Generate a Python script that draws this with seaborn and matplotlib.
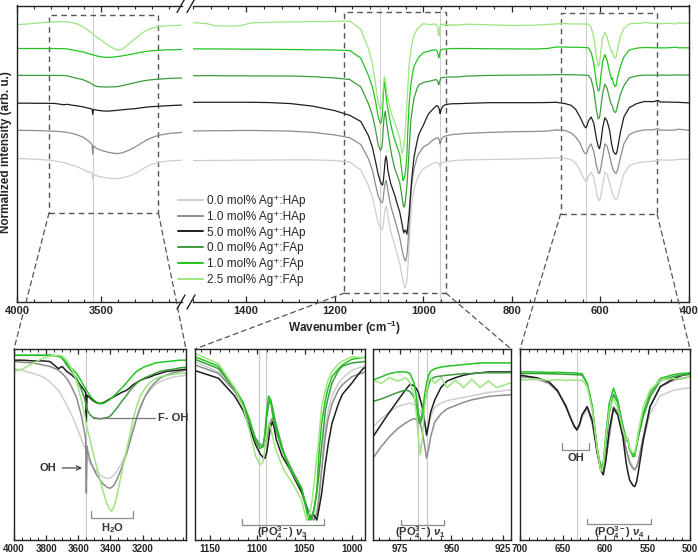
import numpy as np
import matplotlib
matplotlib.use('Agg')
import matplotlib.pyplot as plt
import seaborn as sns
from matplotlib.ticker import MultipleLocator, FixedLocator
from matplotlib.patches import ConnectionPatch, Rectangle
from matplotlib.lines import Line2D

# ---- data: OH stretching region (cm-1) ----
wn_oh = [4000, 3942, 3880, 3818, 3776, 3724, 3700, 3672, 3642, 3610,
         3579, 3562, 3554, 3550, 3546, 3540, 3527, 3507, 3486, 3465,
         3445, 3424, 3408, 3393, 3377, 3361, 3330, 3299, 3278, 3258,
         3237, 3216, 3185, 3154, 3123, 3092, 3050, 3009, 2970, 2930]

hap00_oh = [1.011, 1.008, 1.004, 0.999, 0.992, 0.980, 0.971, 0.959, 0.945, 0.928,
            0.909, 0.900, 0.895, 0.852, 0.888, 0.883, 0.876, 0.869, 0.864, 0.859,
            0.856, 0.854, 0.854, 0.856, 0.859, 0.864, 0.876, 0.892, 0.909, 0.926,
            0.942, 0.957, 0.971, 0.980, 0.988, 0.992, 0.996, 0.999, 1.000, 1.002]
hap10_oh = [1.021, 1.020, 1.019, 1.016, 1.014, 1.009, 1.004, 0.997, 0.985, 0.969,
            0.942, 0.921, 0.909, 0.833, 0.900, 0.892, 0.880, 0.869, 0.859, 0.852,
            0.846, 0.842, 0.840, 0.841, 0.845, 0.852, 0.869, 0.890, 0.907, 0.923,
            0.940, 0.954, 0.971, 0.983, 0.991, 0.997, 1.002, 1.005, 1.007, 1.009]
hap50_oh = [1.023, 1.023, 1.022, 1.022, 1.021, 1.011, 1.014, 1.007, 1.002, 0.995,
            0.985, 0.980, 0.976, 0.935, 0.973, 0.972, 0.969, 0.965, 0.962, 0.961,
            0.962, 0.965, 0.967, 0.969, 0.971, 0.973, 0.977, 0.980, 0.984, 0.988,
            0.991, 0.994, 0.997, 0.999, 1.002, 1.004, 1.007, 1.008, 1.009, 1.010]
fap00_oh = [1.030, 1.030, 1.030, 1.030, 1.030, 1.029, 1.026, 1.016, 1.007, 0.997,
            0.980, 0.969, 0.962, 0.957, 0.954, 0.950, 0.945, 0.941, 0.940, 0.939,
            0.940, 0.941, 0.942, 0.945, 0.950, 0.954, 0.964, 0.973, 0.980, 0.985,
            0.990, 0.994, 0.998, 1.001, 1.004, 1.007, 1.009, 1.010, 1.012, 1.013]
fap10_oh = [1.030, 1.030, 1.030, 1.030, 1.030, 1.029, 1.026, 1.019, 1.011, 1.004,
            0.992, 0.985, 0.983, 0.980, 0.979, 0.977, 0.972, 0.967, 0.963, 0.961,
            0.961, 0.964, 0.966, 0.969, 0.972, 0.976, 0.983, 0.991, 0.997, 1.002,
            1.007, 1.010, 1.014, 1.016, 1.019, 1.020, 1.021, 1.022, 1.023, 1.023]
fap25_oh = [1.007, 1.011, 1.019, 1.026, 1.029, 1.030, 1.029, 1.023, 1.011, 0.992,
            0.964, 0.947, 0.938, 0.930, 0.927, 0.921, 0.909, 0.890, 0.871, 0.852,
            0.835, 0.819, 0.811, 0.807, 0.814, 0.828, 0.862, 0.895, 0.918, 0.940,
            0.957, 0.971, 0.983, 0.991, 0.996, 0.999, 1.001, 1.003, 1.004, 1.005]

# ---- data: fingerprint region (cm-1) ----
wn_fp = [1520, 1490, 1470, 1450, 1430, 1410, 1390, 1350, 1300, 1250, 1200,
         1166, 1141, 1124, 1115, 1108, 1102, 1097, 1094, 1092, 1090,
         1088, 1086, 1084, 1082, 1080, 1074, 1071, 1065, 1060, 1053,
         1048, 1046, 1044, 1042, 1040, 1037, 1035, 1032, 1028, 1025,
         1021, 1014, 1010, 1000, 993,
         988, 984, 980, 976, 972, 970, 968, 967, 966, 965,
         964, 963, 962, 961, 960, 958, 955, 952, 948, 944,
         940, 936, 932, 928, 922,
         900, 850, 800, 750, 720,
         700, 680, 666, 656, 646, 640, 636, 633, 630, 627,
         621, 615, 609, 605, 602, 599, 595, 590, 585, 579,
         575, 573, 571, 567, 565, 563, 561, 555, 547, 535,
         519, 510, 500, 480, 470, 465, 450, 430, 425, 400]

hap00_fp = [0.994, 0.995, 0.996, 0.996, 0.997, 0.998, 0.998, 0.999, 1.000, 1.000, 0.995,
            0.983, 0.920, 0.800, 0.710, 0.600, 0.510, 0.470, 0.455, 0.460, 0.500,
            0.570, 0.620, 0.640, 0.610, 0.560, 0.450, 0.410, 0.340, 0.280, 0.190,
            0.090, 0.060, 0.020, 0.000, 0.010, 0.060, 0.150, 0.320, 0.580, 0.680,
            0.770, 0.850, 0.880, 0.930, 0.945,
            0.952, 0.962, 0.970, 0.977, 0.980, 0.981, 0.979, 0.978, 0.975, 0.972,
            0.966, 0.958, 0.946, 0.955, 0.965, 0.976, 0.981, 0.984, 0.986, 0.988,
            0.990, 0.992, 0.994, 0.995, 0.997,
            1.000, 1.003, 1.006, 1.010, 1.013,
            1.015, 1.013, 1.000, 0.975, 0.920, 0.870, 0.845, 0.833, 0.845, 0.875,
            0.905, 0.860, 0.750, 0.690, 0.680, 0.720, 0.800, 0.905, 0.890, 0.815,
            0.760, 0.740, 0.720, 0.695, 0.690, 0.695, 0.710, 0.790, 0.890, 0.955,
            0.975, 0.980, 0.985, 0.990, 0.995, 1.000, 0.998, 1.000, 1.005, 1.005]
hap10_fp = [1.016, 1.017, 1.018, 1.018, 1.019, 1.020, 1.020, 1.018, 1.015, 1.005, 0.985,
            0.963, 0.910, 0.800, 0.710, 0.600, 0.510, 0.470, 0.455, 0.460, 0.500,
            0.570, 0.610, 0.630, 0.600, 0.550, 0.440, 0.400, 0.330, 0.270, 0.180,
            0.090, 0.060, 0.030, 0.010, 0.000, 0.040, 0.120, 0.300, 0.520, 0.630,
            0.720, 0.810, 0.840, 0.890, 0.905,
            0.914, 0.928, 0.940, 0.950, 0.957, 0.960, 0.962, 0.961, 0.958, 0.955,
            0.945, 0.930, 0.914, 0.925, 0.940, 0.958, 0.968, 0.974, 0.978, 0.982,
            0.985, 0.987, 0.989, 0.990, 0.991,
            0.998, 1.005, 1.010, 1.012, 1.015,
            1.024, 1.020, 1.000, 0.970, 0.921, 0.870, 0.845, 0.836, 0.850, 0.885,
            0.915, 0.855, 0.745, 0.690, 0.685, 0.730, 0.810, 0.915, 0.897, 0.818,
            0.758, 0.735, 0.709, 0.690, 0.685, 0.695, 0.715, 0.806, 0.915, 0.988,
            1.012, 1.018, 1.024, 1.025, 1.035, 1.022, 1.022, 1.023, 1.030, 1.022]
hap50_fp = [1.030, 1.030, 1.030, 1.030, 1.030, 1.030, 1.030, 1.028, 1.020, 1.000, 0.965,
            0.928, 0.880, 0.770, 0.680, 0.570, 0.470, 0.410, 0.390, 0.383, 0.420,
            0.500, 0.580, 0.610, 0.570, 0.500, 0.400, 0.370, 0.310, 0.250, 0.170,
            0.080, 0.040, 0.010, 0.030, 0.030, 0.000, 0.060, 0.160, 0.350, 0.470,
            0.600, 0.725, 0.780, 0.850, 0.905,
            0.940, 0.955, 0.970, 0.984, 0.998, 1.004, 1.002, 0.999, 0.994, 0.985,
            0.975, 0.960, 0.942, 0.955, 0.970, 0.985, 1.000, 1.008, 1.012, 1.015,
            1.017, 1.018, 1.019, 1.019, 1.019,
            1.022, 1.027, 1.027, 1.027, 1.028,
            1.030, 1.020, 1.006, 0.975, 0.915, 0.870, 0.842, 0.830, 0.850, 0.885,
            0.915, 0.867, 0.745, 0.685, 0.667, 0.720, 0.830, 0.909, 0.885, 0.806,
            0.709, 0.675, 0.648, 0.628, 0.624, 0.640, 0.673, 0.794, 0.915, 0.988,
            1.018, 1.028, 1.036, 1.035, 1.045, 1.032, 1.032, 1.030, 1.030, 1.025]
fap00_fp = [1.028, 1.028, 1.028, 1.027, 1.027, 1.027, 1.026, 1.026, 1.025, 1.020, 1.010,
            0.998, 0.940, 0.810, 0.720, 0.610, 0.490, 0.445, 0.460, 0.520, 0.640,
            0.720, 0.750, 0.700, 0.640, 0.590, 0.460, 0.400, 0.310, 0.260, 0.190,
            0.080, 0.030, 0.000, 0.010, 0.060, 0.170, 0.270, 0.450, 0.680, 0.760,
            0.850, 0.930, 0.955, 0.975, 0.980,
            0.983, 0.986, 0.990, 0.994, 0.997, 0.995, 0.988, 0.978, 0.962, 0.956,
            0.965, 0.980, 0.993, 1.003, 1.010, 1.013, 1.014, 1.015, 1.016, 1.017,
            1.017, 1.018, 1.018, 1.018, 1.018,
            1.025, 1.030, 1.032, 1.033, 1.034,
            1.036, 1.036, 1.035, 1.034, 1.033, 1.032, 1.032, 1.031, 1.031, 1.030,
            1.000, 0.915, 0.760, 0.690, 0.700, 0.780, 0.890, 0.960, 0.930, 0.845,
            0.800, 0.795, 0.760, 0.740, 0.745, 0.770, 0.800, 0.880, 0.950, 1.010,
            1.025, 1.030, 1.032, 1.032, 1.032, 1.032, 1.032, 1.033, 1.033, 1.032]
fap10_fp = [1.027, 1.027, 1.027, 1.026, 1.026, 1.025, 1.025, 1.024, 1.022, 1.020, 1.018,
            1.014, 0.955, 0.820, 0.730, 0.620, 0.500, 0.445, 0.460, 0.540, 0.680,
            0.770, 0.740, 0.660, 0.600, 0.560, 0.450, 0.400, 0.320, 0.270, 0.200,
            0.060, 0.000, 0.010, 0.030, 0.070, 0.190, 0.390, 0.600, 0.745, 0.820,
            0.890, 0.940, 0.963, 0.998, 1.005,
            1.009, 1.013, 1.017, 1.019, 1.019, 1.017, 1.005, 0.990, 0.970, 0.958,
            0.970, 0.990, 1.005, 1.015, 1.020, 1.023, 1.025, 1.026, 1.027, 1.028,
            1.029, 1.030, 1.030, 1.030, 1.030,
            1.030, 1.028, 1.027, 1.026, 1.030,
            1.042, 1.041, 1.040, 1.040, 1.039, 1.038, 1.038, 1.037, 1.036, 1.035,
            1.000, 0.915, 0.758, 0.697, 0.709, 0.818, 0.927, 0.982, 0.939, 0.842,
            0.790, 0.800, 0.760, 0.733, 0.735, 0.770, 0.810, 0.891, 0.964, 1.018,
            1.032, 1.036, 1.038, 1.036, 1.035, 1.035, 1.035, 1.040, 1.036, 1.035]
fap25_fp = [1.022, 1.015, 0.998, 0.996, 0.995, 1.000, 1.020, 1.025, 1.028, 1.030, 1.032,
            1.035, 0.970, 0.820, 0.700, 0.550, 0.400, 0.342, 0.360, 0.440, 0.540,
            0.600, 0.580, 0.520, 0.470, 0.430, 0.340, 0.300, 0.250, 0.200, 0.120,
            0.000, 0.020, 0.060, 0.120, 0.220, 0.400, 0.500, 0.700, 0.807, 0.870,
            0.921, 0.970, 0.985, 1.014, 1.010,
            1.009, 1.005, 1.012, 1.008, 1.012, 1.006, 0.990, 0.970, 0.940, 0.918,
            0.940, 0.975, 0.995, 1.008, 1.012, 1.005, 1.012, 1.000, 1.009, 1.000,
            1.010, 1.000, 1.008, 1.000, 1.005,
            1.010, 1.005, 1.000, 1.002, 1.008,
            1.012, 1.016, 1.010, 1.014, 1.010, 1.013, 1.010, 1.012, 1.010, 1.012,
            0.988, 0.903, 0.758, 0.679, 0.700, 0.806, 0.903, 0.946, 0.910, 0.830,
            0.794, 0.800, 0.764, 0.745, 0.750, 0.780, 0.820, 0.915, 0.976, 1.012,
            1.018, 1.015, 1.024, 1.015, 1.020, 1.012, 1.018, 1.012, 1.020, 1.015]

labels = ['0.0 mol% Ag⁺:HAp', '1.0 mol% Ag⁺:HAp', '5.0 mol% Ag⁺:HAp',
          '0.0 mol% Ag⁺:FAp', '1.0 mol% Ag⁺:FAp', '2.5 mol% Ag⁺:FAp']
colors = ['#cdcdcd', '#8c8c8c', '#1e1e1e', '#3c9c3c', '#22c422', '#9de580']
offsets = [0.0, 0.21, 0.42, 0.63, 0.84, 1.05]
oh_sets = [hap00_oh, hap10_oh, hap50_oh, fap00_oh, fap10_oh, fap25_oh]
fp_sets = [hap00_fp, hap10_fp, hap50_fp, fap00_fp, fap10_fp, fap25_fp]

# ---- style ----
sns.set_style('white')
plt.rcParams['font.family'] = ['Liberation Sans', 'DejaVu Sans']
plt.rcParams['font.weight'] = 'bold'
plt.rcParams['mathtext.fontset'] = 'custom'
plt.rcParams['mathtext.rm'] = 'Liberation Sans'
plt.rcParams['mathtext.it'] = 'Liberation Sans:italic'
plt.rcParams['mathtext.bf'] = 'Liberation Sans:bold'

W, H = 698, 558
fig = plt.figure(figsize=(W / 100, H / 100), dpi=100)


def box(x0, y0, x1, y1):
    # pixel box (top-left origin) -> figure fraction rect
    return [x0 / W, 1 - y1 / H, (x1 - x0) / W, (y1 - y0) / H]


ax_l = fig.add_axes(box(17, 5.5, 182, 302))
ax_r = fig.add_axes(box(193, 5.5, 689, 302))
p1 = fig.add_axes(box(14, 349, 186, 540))
p2 = fig.add_axes(box(195, 349, 365, 540))
p3 = fig.add_axes(box(373, 349, 511, 540))
p4 = fig.add_axes(box(520, 349, 690, 540))

lw_top = 0.9
for col, off, yo, yf in zip(colors, offsets, oh_sets, fp_sets):
    sns.lineplot(x=wn_oh, y=np.array(yo) + off, ax=ax_l, color=col, lw=lw_top,
                 estimator=None, sort=False, legend=False)
    sns.lineplot(x=wn_fp, y=np.array(yf) + off, ax=ax_r, color=col, lw=lw_top,
                 estimator=None, sort=False, legend=False)

for ax in [p1, p2, p3, p4]:
    for col, yo, yf in zip(colors, oh_sets, fp_sets):
        if ax is p1:
            sns.lineplot(x=wn_oh, y=yo, ax=ax, color=col, lw=1.1,
                         estimator=None, sort=False, legend=False)
        else:
            sns.lineplot(x=wn_fp, y=yf, ax=ax, color=col, lw=1.1,
                         estimator=None, sort=False, legend=False)

# ---- top (broken) axes ----
for ax in [ax_l, ax_r]:
    ax.set_ylim(-0.11, 2.206)
    ax.set_xlabel('')
    ax.set_ylabel('')
    ax.set_yticks([])
    ax.tick_params(axis='x', which='both', direction='in', top=True, bottom=True,
                   labelsize=8, pad=3)
    ax.tick_params(axis='x', which='major', length=4, width=0.9)
    ax.tick_params(axis='x', which='minor', length=2.5, width=0.8)
    for s in ax.spines.values():
        s.set_color('#222222')
        s.set_linewidth(1.0)
ax_l.set_xlim(4000, 3020)
ax_l.xaxis.set_major_locator(FixedLocator([4000, 3500]))
ax_l.xaxis.set_minor_locator(MultipleLocator(100))
ax_l.spines['right'].set_visible(False)
ax_r.set_xlim(1520, 400)
ax_r.xaxis.set_major_locator(MultipleLocator(200))
ax_r.xaxis.set_minor_locator(MultipleLocator(40))
ax_r.spines['left'].set_visible(False)

ax_l.axvline(3550, color='#d0d0d0', lw=0.8, zorder=0)
for xv in [1097, 963, 633]:
    ax_r.axvline(xv, color='#d0d0d0', lw=0.8, zorder=0)

dash = dict(fill=False, ec='#555555', lw=1.0, ls=(0, (4, 3)))
ax_l.add_patch(Rectangle((3810, 0.585), 3160 - 3810, 2.132 - 0.585, **dash))
ax_r.add_patch(Rectangle((1178, -0.04), 949 - 1178, 2.156 + 0.04, **dash))
ax_r.add_patch(Rectangle((690, 0.577), 472 - 690, 2.148 - 0.577, **dash))

# break marks
for yc in [5.5, 302]:
    for xc in [181, 191]:
        fig.add_artist(Line2D([(xc - 4) / W, (xc + 4) / W],
                              [1 - (yc + 7) / H, 1 - (yc - 7) / H],
                              transform=fig.transFigure, color='#222222', lw=1.0))

fig.text(6 / W, 1 - 152 / H, 'Normalized intensity (arb. u.)', rotation=90,
         ha='center', va='center', fontsize=8.5)
fig.text(345 / W, 1 - 328 / H, 'Wavenumber (cm$^{-1}$)', ha='center', va='center',
         fontsize=8.5)

handles = [Line2D([0], [0], color=c, lw=1.4) for c in colors]
fig.legend(handles, labels, loc='upper left', bbox_to_anchor=(178 / W, 1 - 195 / H),
           frameon=False, prop={'weight': 'normal', 'size': 8.5},
           handlelength=2.1, handletextpad=0.35, labelspacing=0.32,
           borderpad=0, borderaxespad=0)

# ---- zoom panels ----
zooms = [
    (p1, (4000, 2930), (0.766, 1.039), [4000, 3800, 3600, 3400, 3200], 50, [3550]),
    (p2, (1166, 986), (-0.124, 1.062), [1150, 1100, 1050, 1000], 10, [1098, 1091]),
    (p3, (988, 921), (0.814, 1.047), [975, 950, 925], 5, [966, 962]),
    (p4, (700, 500), (0.43, 1.125), [700, 650, 600, 550, 500], 10, [633]),
]
for ax, xl, yl, maj, mnr, vl in zooms:
    ax.set_xlim(*xl)
    ax.set_ylim(*yl)
    ax.set_xlabel('')
    ax.set_ylabel('')
    ax.set_yticks([])
    ax.xaxis.set_major_locator(FixedLocator(maj))
    ax.xaxis.set_minor_locator(MultipleLocator(mnr))
    ax.tick_params(axis='x', which='both', direction='in', top=True, bottom=True,
                   labelsize=7, pad=3)
    ax.tick_params(axis='x', which='major', length=3.5, width=0.9)
    ax.tick_params(axis='x', which='minor', length=2, width=0.7)
    for s in ax.spines.values():
        s.set_color('#222222')
        s.set_linewidth(1.0)
    for xv in vl:
        ax.axvline(xv, color='#c8c8c8', lw=0.8, zorder=0)


def bracket(ax, x0, x1, y, h):
    ax.plot([x0, x0, x1, x1], [y + h, y, y, y + h], color='#8a8a8a', lw=0.9)


txt = dict(ha='center', va='center', fontsize=8, color='#333333')
po4 = '(PO$_\\mathbf{4}^\\mathbf{3-}$) '
# OH stretching panel
p1.annotate('OH', xy=(3560, 0.869), xytext=(3790, 0.869),
            arrowprops=dict(arrowstyle='->', color='#333333', lw=0.8), **txt)
p1.plot([3508, 3120], [0.940, 0.940], color='#777777', lw=0.9)
p1.text(3105, 0.940, 'F- OH', ha='left', va='center', fontsize=8, color='#333333')
bracket(p1, 3521, 3260, 0.797, 0.01)
p1.text(3390, 0.783, 'H$_\\mathbf{2}$O', **txt)
# nu3
bracket(p2, 1116, 1029, -0.030, 0.035)
p2.text(1073, -0.078, po4 + '$\\nu_3$', **txt)
# nu1
bracket(p3, 974.3, 953.6, 0.832, 0.006)
p3.text(965, 0.823, po4 + '$\\nu_1$', **txt)
# nu4
bracket(p4, 650.4, 619.4, 0.757, 0.026)
p4.text(634.5, 0.728, 'OH', **txt)
bracket(p4, 620.6, 545.3, 0.490, 0.018)
p4.text(583, 0.458, po4 + '$\\nu_4$', **txt)

# dashed connectors from boxes to panels
conn = dict(color='#555555', lw=0.9, ls=(0, (4, 3)))
pairs = [
    (ax_l, (3810, 0.585), p1, (4000, 1.039)),
    (ax_l, (3160, 0.585), p1, (2930, 1.039)),
    (ax_r, (1178, -0.04), p2, (1166, 1.062)),
    (ax_r, (949, -0.04), p3, (921, 1.047)),
    (ax_r, (690, 0.577), p4, (700, 1.125)),
    (ax_r, (472, 0.577), p4, (500, 1.125)),
]
for axa, xya, axb, xyb in pairs:
    cp = ConnectionPatch(xyA=xya, coordsA='data', axesA=axa,
                         xyB=xyb, coordsB='data', axesB=axb, **conn)
    fig.add_artist(cp)

fig.savefig('out.png', dpi=100)
